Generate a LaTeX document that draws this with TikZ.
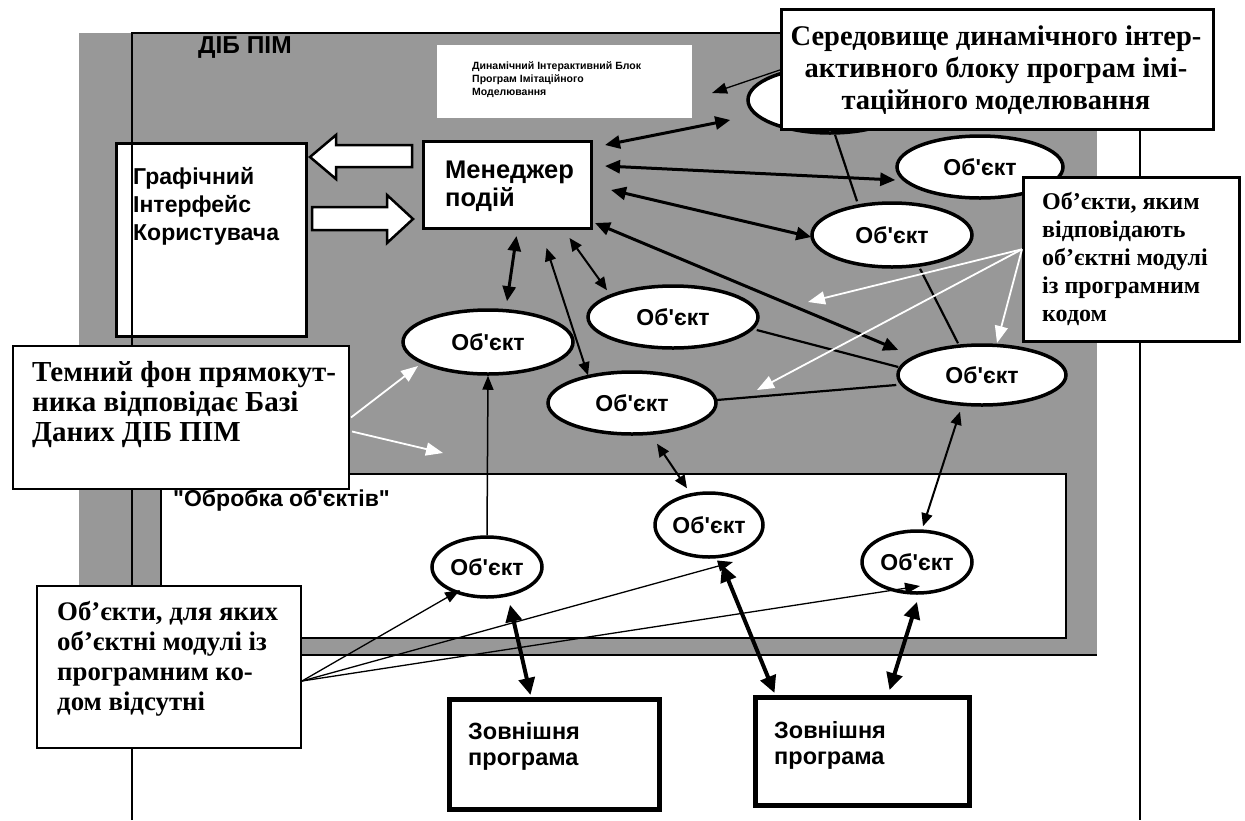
\documentclass[tikz,border=0pt]{standalone}
\usepackage{fontspec}
\newfontfamily\dsans{Liberation Sans}
\newfontfamily\dserif{Liberation Serif}
\usetikzlibrary{arrows.meta,shapes.geometric,calc}
\definecolor{dbgray}{RGB}{152,152,152}
\newcommand\sqt{\textquotesingle}
\tikzset{
  box/.style={draw, line width=3pt, fill=white, inner sep=0pt, anchor=north west},
  extbox/.style={box, line width=5pt},
  obj/.style={ellipse, draw, line width=3.5pt, fill=white, inner sep=0pt,
    font=\dsans\bfseries\fontsize{23}{26}\selectfont},
  dtext/.style={anchor=west, align=left, inner sep=0pt,
    font=\dsans\bfseries\fontsize{23}{28}\selectfont},
  smalltext/.style={anchor=west, align=left, inner sep=0pt,
    font=\dsans\bfseries\fontsize{10.5}{13}\selectfont},
  callout/.style={draw, line width=2.5pt, fill=white, inner sep=0pt, anchor=north west},
  ctext/.style={anchor=west, align=left, inner sep=0pt},
  big/.style={line width=3pt, {Triangle[length=15pt,width=13pt]}-{Triangle[length=15pt,width=13pt]}},
  mid/.style={line width=2pt, {Triangle[length=13pt,width=11pt]}-{Triangle[length=13pt,width=11pt]}},
  heavy/.style={line width=4pt, {Triangle[length=17pt,width=16pt]}-{Triangle[length=17pt,width=16pt]}},
  plainline/.style={line width=2.2pt},
  bpoint/.style={line width=1.3pt, -{Triangle[length=15pt,width=11pt]}},
  wpoint/.style={white, line width=1.8pt, -{Triangle[length=17pt,width=13pt]}},
  hollow/.style={draw, line width=2.5pt, fill=white, line join=miter}
}
\begin{document}
\begin{tikzpicture}[x=1pt,y=-1pt]
\useasboundingbox (0,0) rectangle (1245,820);
% database background
\fill[dbgray] (79,33) rectangle (1097,656);
\draw[line width=2pt] (79,655) -- (1097,655);
\node[anchor=west, inner sep=0pt, font=\dsans\bfseries\fontsize{24.5}{28}\selectfont] (dibl) at (198,48) {ДІБ ПІМ};
% DIB white block
\node[fill=white, inner sep=0pt, anchor=north west, minimum width=255, minimum height=73] (dib) at (437,45) {};
\node[smalltext] (dibt) at (472,80) {Динамічний Інтерактивний Блок\\Програм Імітаційного\\Моделювання};
% GUI
\node[box, minimum width=190, minimum height=193] (gui) at (115,142) {};
\node[dtext] (guit) at (133,206) {Графічний\\Інтерфейс\\Користувача};
% event manager
\node[box, minimum width=168, minimum height=87] (mgr) at (422,140) {};
\node[dtext, font=\dsans\bfseries\fontsize{25.5}{28}\selectfont] (mgrt) at (445,186) {Менеджер\\подій};
% hollow arrows
\draw[hollow] (310,157) -- (336,135) -- (336,145) -- (412,145) -- (412,167) -- (336,167) -- (336,179) -- cycle;
\draw[hollow] (413,219) -- (387,195) -- (387,207) -- (312,207) -- (312,230) -- (387,230) -- (387,243) -- cycle;
% processing area
\node[draw, line width=2pt, fill=white, inner sep=0pt, anchor=north west, minimum width=905, minimum height=164] (proc) at (160,473) {};
\node[dtext, font=\dsans\bfseries\fontsize{23}{26}\selectfont] (proct) at (173,500) {\textquotedbl Обробка об\sqt єктів\textquotedbl};
% objects
\node[obj, minimum width=164, minimum height=66] (o1) at (830,100) {};
\node[obj, minimum width=166, minimum height=62] (o2) at (980,167) {Об\sqt єкт};
\node[obj, minimum width=160, minimum height=64] (o3) at (892,235) {Об\sqt єкт};
\node[obj, minimum width=168, minimum height=60] (o4) at (982,375) {Об\sqt єкт};
\node[obj, minimum width=170, minimum height=62] (o5) at (673,317) {Об\sqt єкт};
\node[obj, minimum width=170, minimum height=64] (o6) at (488,342) {Об\sqt єкт};
\node[obj, minimum width=168, minimum height=62] (o7) at (632,403) {Об\sqt єкт};
\node[obj, minimum width=110, minimum height=60] (o8) at (487,567) {Об\sqt єкт};
\node[obj, minimum width=108, minimum height=64] (o9) at (709,525) {Об\sqt єкт};
\node[obj, minimum width=110, minimum height=62] (o10) at (917,562) {Об\sqt єкт};
% external programs
\node[extbox, minimum width=210, minimum height=110] (exa) at (447,697) {};
\node[dtext, font=\dsans\bfseries\fontsize{23.5}{26}\selectfont] (exat) at (468,746) {Зовнішня\\програма};
\node[extbox, minimum width=214, minimum height=108] (exb) at (753,695) {};
\node[dtext, font=\dsans\bfseries\fontsize{23.5}{26}\selectfont] (exbt) at (774,745) {Зовнішня\\програма};
% connectors from the event manager
\draw[big] ([shift={(12,5)}]mgr.north east) -- ([shift={(-16,20)}]o1.west);
\draw[big] ([shift={(12,26)}]mgr.north east) -- ([shift={(0,13)}]o2.west);
\draw[big] ([shift={(18,50)}]mgr.north east) -- ([shift={(1,2)}]o3.west);
\draw[big] ([shift={(2,-7)}]mgr.south east) -- ([shift={(2,-25)}]o4.west);
\draw[big] ([shift={(9,6)}]mgr.south) -- ([shift={(19,-7)}]o6.north);
\draw[mid] ([shift={(39,18)}]mgr.south) -- ([shift={(-44,5)}]o7.north);
\draw[mid] ([shift={(62,8)}]mgr.south) -- ([shift={(-66,6)}]o5.north);
% plain links
\draw[plainline] ([shift={(5,0)}]o1.south) -- ([shift={(-35,0)}]o3.north);
\draw[plainline] ([shift={(28,0)}]o3.south) -- ([shift={(-24,0)}]o4.north);
\draw[plainline] ([shift={(-3,13)}]o5.east) -- ([shift={(2,-8)}]o4.west);
\draw[plainline] ([shift={(-1,-3)}]o7.east) -- ([shift={(0,10)}]o4.west);
% lower links
\draw[mid] ([shift={(25,8)}]o7.south) -- ([shift={(-22,-3)}]o9.north);
\draw[line width=1.5pt, -{Triangle[length=14pt,width=11pt]}] (o8.north) -- (o6.south);
\draw[mid] ([shift={(-22,5)}]o4.south) -- ([shift={(6,-3)}]o10.north);
\draw[heavy] ([shift={(23,6)}]o8.south) -- ([shift={(-24,-2)}]exa.north);
\draw[heavy] ([shift={(13,6)}]o9.south) -- ([shift={(-88,-2)}]exb.north);
\draw[heavy] ([shift={(0,7)}]o10.south) -- ([shift={(27,-5)}]exb.north);
% page frame lines
\draw[line width=1.5pt] (132,820) -- (132,33) -- (1140,33) -- (1140,820);
% callouts
\node[callout, minimum width=432, minimum height=120] (c1) at (780,8) {};
\node[anchor=center, align=center, inner sep=0pt, font=\dserif\bfseries\fontsize{28.5}{32}\selectfont] (c1t) at (996,70) {Середовище динамічного інтер-\\активного блоку програм імі-\\таційного моделювання};
\node[callout, minimum width=216, minimum height=164] (c2) at (1022,176) {};
\node[ctext, font=\dserif\bfseries\fontsize{24}{28}\selectfont] (c2t) at (1042,259) {Об’єкти, яким\\відповідають\\об’єктні модулі\\із програмним\\кодом};
\node[callout, line width=2pt, minimum width=336, minimum height=143] (c3) at (12,345) {};
\node[ctext, font=\dserif\bfseries\fontsize{29}{30}\selectfont] (c3t) at (32,405) {Темний фон прямокут-\\ника відповідає Базі\\Даних ДІБ ПІМ};
\node[callout, line width=2pt, minimum width=264, minimum height=162] (c4) at (36,585) {};
\node[ctext, font=\dserif\bfseries\fontsize{26.8}{30}\selectfont] (c4t) at (57,659) {Об’єкти, для яких\\об’єктні модулі із\\програмним ко-\\дом відсутні};
% callout pointers
\coordinate (p1) at (712,93);
\draw[bpoint] ([shift={(2,0)}]c1.west) -- (p1);
\coordinate (w1) at (808,302);
\coordinate (w2) at (757,390);
\coordinate (w3) at (997,343);
\draw[wpoint] ([shift={(0,-10)}]c2.west) -- (w1);
\draw[wpoint] ([shift={(0,-10)}]c2.west) -- (w2);
\draw[wpoint] ([shift={(0,-10)}]c2.west) -- (w3);
\coordinate (w4) at (418,366);
\coordinate (w5) at (443,453);
\draw[wpoint] ([shift={(1,0)}]c3.east) -- (w4);
\draw[wpoint] ([shift={(2,14)}]c3.east) -- (w5);
\coordinate (b1) at (460,590);
\coordinate (b2) at (733,562);
\coordinate (b3) at (920,586);
\draw[bpoint] ([shift={(0,14)}]c4.east) -- (b1);
\draw[bpoint] ([shift={(0,14)}]c4.east) -- (b2);
\draw[bpoint] ([shift={(0,14)}]c4.east) -- (b3);
\end{tikzpicture}
\end{document}
